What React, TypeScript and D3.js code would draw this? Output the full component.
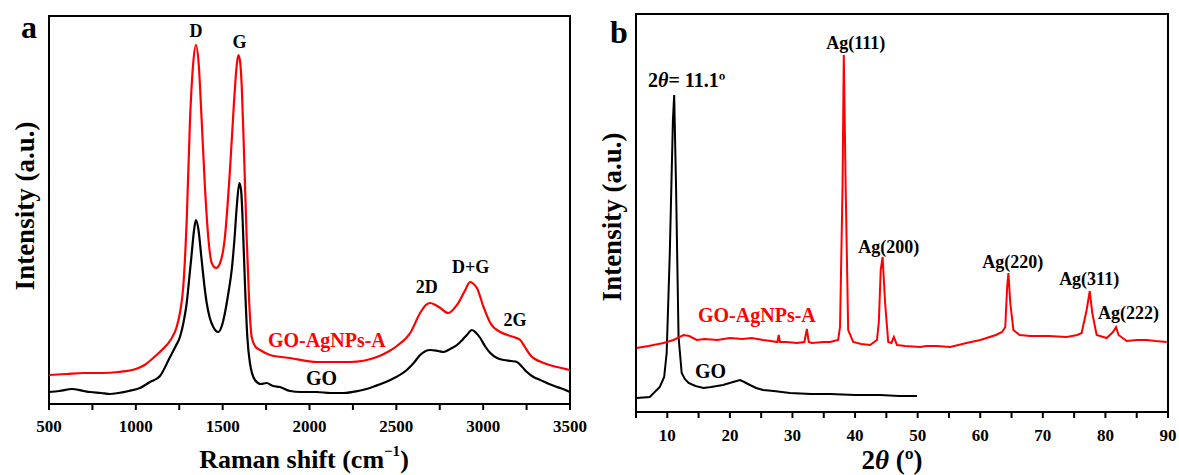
import React from "react";
import * as d3 from "d3";

// ---------- Panel a: Raman spectra (Raman shift cm^-1, intensity a.u.) ----------
const ramanGoAg: [number, number][] = [
  [500, 29], [600, 30], [700, 31], [800, 31], [900, 32], [1000, 35], [1050, 39], [1100, 46],
  [1150, 54], [1200, 64], [1235, 77], [1255, 92], [1273, 117],
  [1293, 184], [1312, 284], [1330, 340], [1346, 359], [1362, 340], [1379, 284], [1398, 217],
  [1417, 167], [1437, 141], [1462, 136], [1485, 141], [1513, 167], [1542, 234], [1565, 301],
  [1580, 337], [1590, 349], [1600, 343], [1610, 317], [1623, 251], [1638, 167], [1653, 101],
  [1667, 67], [1690, 57], [1715, 54], [1773, 49], [1888, 46], [2042, 42], [2234, 42],
  [2388, 47], [2450, 52], [2503, 58], [2580, 71], [2637, 91], [2670, 99], [2695, 101],
  [2725, 99], [2753, 96], [2799, 91], [2849, 99], [2897, 114], [2925, 122], [2945, 120],
  [2964, 116], [3002, 97], [3041, 81], [3098, 72], [3140, 69], [3175, 67], [3214, 64],
  [3240, 57], [3271, 49], [3348, 41], [3425, 37], [3500, 34],
];

const ramanGo: [number, number][] = [
  [500, 12], [560, 13], [632, 15], [700, 13], [736, 12], [800, 11], [851, 10], [900, 11],
  [960, 13], [1024, 16], [1082, 22], [1139, 28], [1197, 47], [1230, 58], [1254, 67],
  [1275, 82], [1293, 101], [1310, 130], [1322, 151], [1336, 175], [1346, 184], [1360, 175],
  [1379, 144], [1395, 118], [1408, 101], [1426, 86], [1446, 77], [1475, 72], [1495, 78],
  [1513, 91], [1532, 110], [1552, 134], [1568, 165], [1581, 197], [1596, 221], [1606, 214],
  [1615, 184], [1629, 117], [1642, 67], [1657, 41], [1686, 24], [1720, 20], [1753, 21],
  [1790, 18], [1830, 17], [1888, 13], [1950, 12], [2042, 12], [2120, 11], [2196, 11],
  [2280, 13], [2349, 16], [2410, 20], [2465, 24], [2560, 34], [2600, 41], [2637, 49],
  [2695, 54], [2740, 53], [2772, 52], [2810, 55], [2849, 59], [2880, 64], [2906, 69],
  [2935, 74], [2960, 71], [2983, 66], [3010, 58], [3041, 51], [3080, 46], [3118, 44],
  [3160, 43], [3195, 42], [3225, 37], [3252, 32], [3290, 27], [3329, 24], [3380, 20],
  [3425, 17], [3460, 15], [3500, 12],
];

const ramanTicks = [500, 1000, 1500, 2000, 2500, 3000, 3500];
const ramanMinorTicks = [750, 1250, 1750, 2250, 2750, 3250];
const ramanPeakLabels: { text: string; x: number; y: number }[] = [
  { text: "D", x: 1346, y: 367 },
  { text: "G", x: 1597, y: 356 },
  { text: "2D", x: 2675, y: 111 },
  { text: "D+G", x: 2928, y: 131 },
  { text: "2G", x: 3183, y: 78 },
];

// ---------- Panel b: XRD patterns (2θ degrees, intensity a.u.) ----------
const xrdGo: [number, number][] = [
  [5.1, 14], [7.2, 15], [8.8, 25], [9.5, 35], [9.9, 59], [10.4, 159], [10.9, 292], [11.1, 317],
  [11.4, 225], [11.8, 75], [12.3, 39], [12.8, 33], [13.4, 29], [14.5, 26], [15.8, 24], [17, 25],
  [18.9, 27], [20.5, 30], [21.6, 32], [22.3, 30], [23.2, 27], [24.2, 24], [25.3, 22], [27, 21],
  [29.6, 19], [33, 18], [36, 18], [40, 17], [44, 17], [47, 16], [49.9, 16],
];

const xrdGoAg: [number, number][] = [
  [5.1, 64], [7, 66], [9.4, 69], [11, 72], [12.6, 77], [13.5, 76], [14.7, 72], [16, 73],
  [18, 72], [20, 74], [22, 73], [23.5, 74], [25.3, 72], [26.5, 71], [27.6, 70], [27.8, 77],
  [28, 70], [29, 70], [30.7, 69], [31.9, 70], [32.3, 83], [32.6, 70], [33.1, 69], [35, 70],
  [36, 70], [37.3, 72], [37.6, 85], [38, 225], [38.2, 357], [38.5, 225], [38.9, 82],
  [39.7, 70], [41, 68], [42.4, 67], [43.5, 72], [43.8, 90], [44.1, 142], [44.4, 155],
  [44.8, 109], [45.3, 70], [45.8, 69], [46.2, 75], [46.7, 67], [48, 66], [50.4, 65],
  [51.4, 66], [53, 66], [55.2, 65], [57.8, 69], [60, 72], [61, 74], [62.5, 77], [63.5, 80],
  [64, 85], [64.3, 125], [64.5, 139], [64.8, 109], [65.3, 82], [66.3, 77], [68, 76],
  [69.5, 76], [71, 76], [73.8, 75], [75.5, 77], [76.2, 79], [77, 102], [77.5, 121],
  [77.9, 99], [78.6, 77], [80.2, 74], [81.2, 80], [81.7, 85], [82.1, 77], [83.4, 71],
  [85, 72], [86.6, 72], [88, 71], [89.8, 70],
];

const xrdTicks = [10, 20, 30, 40, 50, 60, 70, 80, 90];
const xrdMinorTicks = [5, 15, 25, 35, 45, 55, 65, 75, 85];
const xrdPeakLabels: { text: string; x: number; y: number }[] = [
  { text: "Ag(111)", x: 40.1, y: 363 },
  { text: "Ag(200)", x: 45.4, y: 159 },
  { text: "Ag(220)", x: 65.2, y: 144 },
  { text: "Ag(311)", x: 77.4, y: 127 },
  { text: "Ag(222)", x: 83.7, y: 93 },
];

const RED = "#ff0000";
const FONT = "'Liberation Serif', 'Times New Roman', serif";

export default function App() {
  // Panel a geometry
  const a = { left: 49, right: 570, top: 16, bottom: 404 };
  const xa = d3.scaleLinear().domain([500, 3500]).range([a.left, a.right]);
  const ya = d3.scaleLinear().domain([0, 388]).range([a.bottom, a.top]);
  const lineA = d3
    .line<[number, number]>()
    .x((d) => xa(d[0]))
    .y((d) => ya(d[1]))
    .curve(d3.curveMonotoneX);

  // Panel b geometry
  const b = { left: 636, right: 1168, top: 14, bottom: 412 };
  const xb = d3.scaleLinear().domain([5, 90]).range([b.left, b.right]);
  const yb = d3.scaleLinear().domain([0, 398]).range([b.bottom, b.top]);
  const lineB = d3
    .line<[number, number]>()
    .x((d) => xb(d[0]))
    .y((d) => yb(d[1]))
    .curve(d3.curveLinear);

  const frame = (p: typeof a) => (
    <rect
      x={p.left}
      y={p.top}
      width={p.right - p.left}
      height={p.bottom - p.top}
      fill="none"
      stroke="#000"
      strokeWidth={2}
    />
  );

  return (
    <svg
      width={1179}
      height={475}
      style={{ position: "absolute", left: 0, top: 0, background: "#fff" }}
      fontFamily={FONT}
      fontWeight="bold"
    >
      {/* ================= Panel a ================= */}
      <text x={21} y={38} fontSize={32}>a</text>
      {frame(a)}
      {ramanTicks.map((t) => (
        <g key={"ta" + t}>
          <line x1={xa(t)} x2={xa(t)} y1={a.bottom} y2={a.bottom + 6} stroke="#000" strokeWidth={2} />
          <text x={xa(t)} y={a.bottom + 28} fontSize={17} textAnchor="middle">{t}</text>
        </g>
      ))}
      {ramanMinorTicks.map((t) => (
        <line key={"ma" + t} x1={xa(t)} x2={xa(t)} y1={a.bottom} y2={a.bottom + 6} stroke="#000" strokeWidth={2} />
      ))}
      <text x={304} y={468} fontSize={26} textAnchor="middle">
        Raman shift (cm
        <tspan fontSize={15} dy={-12}>−1</tspan>
        <tspan dy={12}>)</tspan>
      </text>
      <text
        transform={`translate(34, 206) rotate(-90)`}
        fontSize={27}
        textAnchor="middle"
      >
        Intensity (a.u.)
      </text>
      <path d={lineA(ramanGo) || ""} fill="none" stroke="#000" strokeWidth={2.2} />
      <path d={lineA(ramanGoAg) || ""} fill="none" stroke={RED} strokeWidth={2.2} />
      {ramanPeakLabels.map((l) => (
        <text key={l.text} x={xa(l.x)} y={ya(l.y)} fontSize={18} textAnchor="middle">{l.text}</text>
      ))}
      <text x={268} y={347} fontSize={20} fill={RED}>GO-AgNPs-A</text>
      <text x={306} y={385} fontSize={20}>GO</text>

      {/* ================= Panel b ================= */}
      <text x={610} y={43} fontSize={32}>b</text>
      {frame(b)}
      {xrdTicks.map((t) => (
        <g key={"tb" + t}>
          <line x1={xb(t)} x2={xb(t)} y1={b.bottom} y2={b.bottom + 6} stroke="#000" strokeWidth={2} />
          <text x={xb(t)} y={b.bottom + 29} fontSize={17} textAnchor="middle">{t}</text>
        </g>
      ))}
      {xrdMinorTicks.map((t) => (
        <line key={"mb" + t} x1={xb(t)} x2={xb(t)} y1={b.bottom} y2={b.bottom + 6} stroke="#000" strokeWidth={2} />
      ))}
      <text x={(b.left + b.right) / 2 - 10} y={469} fontSize={27} textAnchor="middle">
        2<tspan fontStyle="italic">θ</tspan> (º)
      </text>
      <text
        transform={`translate(621, 217) rotate(-90)`}
        fontSize={27}
        textAnchor="middle"
      >
        Intensity (a.u.)
      </text>
      <path d={lineB(xrdGo) || ""} fill="none" stroke="#000" strokeWidth={2} />
      <path d={lineB(xrdGoAg) || ""} fill="none" stroke={RED} strokeWidth={2} />
      {xrdPeakLabels.map((l) => (
        <text key={l.text} x={xb(l.x)} y={yb(l.y)} fontSize={18} textAnchor="middle">{l.text}</text>
      ))}
      <text x={648} y={87} fontSize={20}>
        2<tspan fontStyle="italic">θ</tspan>= 11.1º
      </text>
      <text x={698} y={322} fontSize={20} fill={RED}>GO-AgNPs-A</text>
      <text x={695} y={378} fontSize={20}>GO</text>
    </svg>
  );
}
